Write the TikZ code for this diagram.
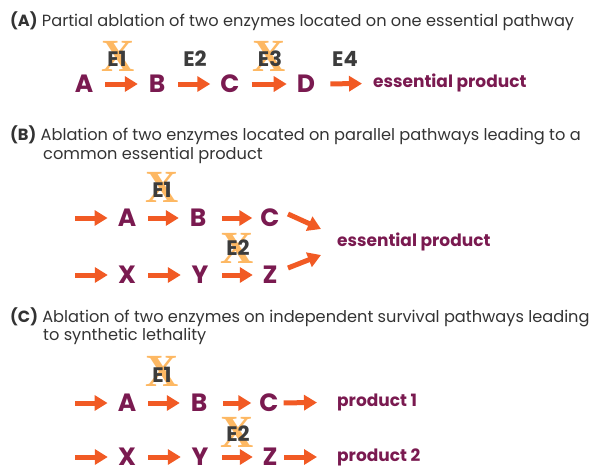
\documentclass[tikz,border=0pt]{standalone}
\usepackage{fontspec}
\setmainfont{Poppins}
\newfontfamily\xserif{Liberation Serif}
\usetikzlibrary{arrows.meta}
\definecolor{purp}{HTML}{7A1A50}
\definecolor{orng}{HTML}{F15A24}
\definecolor{xlt}{HTML}{FDB863}
\definecolor{egray}{HTML}{3C3C3C}
\definecolor{ttl}{HTML}{333333}
\begin{document}
\begin{tikzpicture}[x=1pt,y=-1pt,
  mol/.style={font=\fontsize{25}{25}\selectfont\bfseries, text=purp, inner sep=0pt, minimum width=18pt, anchor=center},
  prod/.style={font=\fontsize{17}{17}\selectfont\bfseries, text=purp, inner sep=0pt, anchor=west},
  enz/.style={font=\fontsize{21}{21}\selectfont\bfseries, text=egray, inner sep=0pt},
  knock/.style={font=\fontsize{46}{46}\selectfont\xserif\bfseries, text=xlt, inner sep=0pt},
  arr/.style={draw=orng, line width=5pt, -{Triangle[length=13pt,width=15pt]}, shorten <=12pt, shorten >=10pt},
  ttlstyle/.style={anchor=base west, font=\fontsize{16.2}{16.2}\selectfont, text=ttl, inner sep=0pt}
]
\useasboundingbox (0,0) rectangle (589,469);

% ---------- (A) ----------
\node[ttlstyle] (tA) at (10,26) {\textbf{(A)} Partial ablation of two enzymes located on one essential pathway};

\node[knock] (xA1) at (118,56) {X};
\node[knock] (xA3) at (269,56) {X};
\node[enz] (eA1) at (117,59) {E1};
\node[enz] (eA2) at (195,59) {E2};
\node[enz] (eA3) at (270,59) {E3};
\node[enz] (eA4) at (345,59) {E4};

\node[mol] (aA) at (84,84) {A};
\node[mol] (aB) at (157,84) {B};
\node[mol] (aC) at (230,84) {C};
\node[mol] (aD) at (306,84) {D};
\node[prod] (aP) at (373,83) {essential product};

\draw[arr] (aA) -- (aB);
\draw[arr] (aB) -- (aC);
\draw[arr] (aC) -- (aD);
\draw[arr, shorten <=15pt, shorten >=11pt] (aD) -- (aP);

% ---------- (B) ----------
\node[ttlstyle] (tB1) at (10,140) {\textbf{(B)} Ablation of two enzymes located on parallel pathways leading to a};
\node[ttlstyle] (tB2) at (43,159) {common essential product};

\node[knock] (xB1) at (162,187) {X};
\node[knock] (xB2) at (237,248) {X};
\node[enz] (eB1) at (162,190) {E1};
\node[enz] (eB2) at (238,248) {E2};

\coordinate (bS1) at (75,218);
\coordinate (bS2) at (75,275);
\node[mol] (bA) at (127,218) {A};
\node[mol] (bB) at (198,218) {B};
\node[mol] (bC) at (270,218) {C};
\node[mol] (bX) at (127,275) {X};
\node[mol] (bY) at (200,275) {Y};
\node[mol] (bZ) at (270,275) {Z};
\node[prod] (bP) at (337,242) {essential product};
\coordinate (bU0) at (288,214);
\coordinate (bU1) at (321,229);
\coordinate (bL0) at (288,268);
\coordinate (bL1) at (321,255);

\draw[arr, shorten <=0pt] (bS1) -- (bA);
\draw[arr] (bA) -- (bB);
\draw[arr, shorten <=15pt, shorten >=8pt] (bB) -- (bC);
\draw[arr, shorten <=0pt] (bS2) -- (bX);
\draw[arr] (bX) -- (bY);
\draw[arr, shorten <=13pt, shorten >=8pt] (bY) -- (bZ);
\draw[arr, shorten <=0pt, shorten >=0pt] (bU0) -- (bU1);
\draw[arr, shorten <=0pt, shorten >=0pt] (bL0) -- (bL1);

% ---------- (C) ----------
\node[ttlstyle] (tC1) at (10,322) {\textbf{(C)} Ablation of two enzymes on independent survival pathways leading};
\node[ttlstyle] (tC2) at (43,340) {to synthetic lethality};

\node[knock] (xC1) at (162,371) {X};
\node[knock] (xC2) at (237,432) {X};
\node[enz] (eC1) at (162,375) {E1};
\node[enz] (eC2) at (238,434) {E2};

\coordinate (cS1) at (75,403);
\coordinate (cS2) at (75,457);
\node[mol] (cA) at (127,403) {A};
\node[mol] (cB) at (199,403) {B};
\node[mol] (cC) at (269,403) {C};
\node[mol] (cX) at (127,457) {X};
\node[mol] (cY) at (200,457) {Y};
\node[mol] (cZ) at (270,457) {Z};
\node[prod] (cP1) at (337,402) {product 1};
\node[prod] (cP2) at (337,457) {product 2};

\draw[arr, shorten <=0pt] (cS1) -- (cA);
\draw[arr] (cA) -- (cB);
\draw[arr, shorten <=15pt, shorten >=8pt] (cB) -- (cC);
\draw[arr, shorten <=5pt, shorten >=20pt] (cC) -- (cP1);
\draw[arr, shorten <=0pt] (cS2) -- (cX);
\draw[arr] (cX) -- (cY);
\draw[arr, shorten <=13pt, shorten >=8pt] (cY) -- (cZ);
\draw[arr, shorten <=5pt, shorten >=20pt] (cZ) -- (cP2);
\end{tikzpicture}
\end{document}
